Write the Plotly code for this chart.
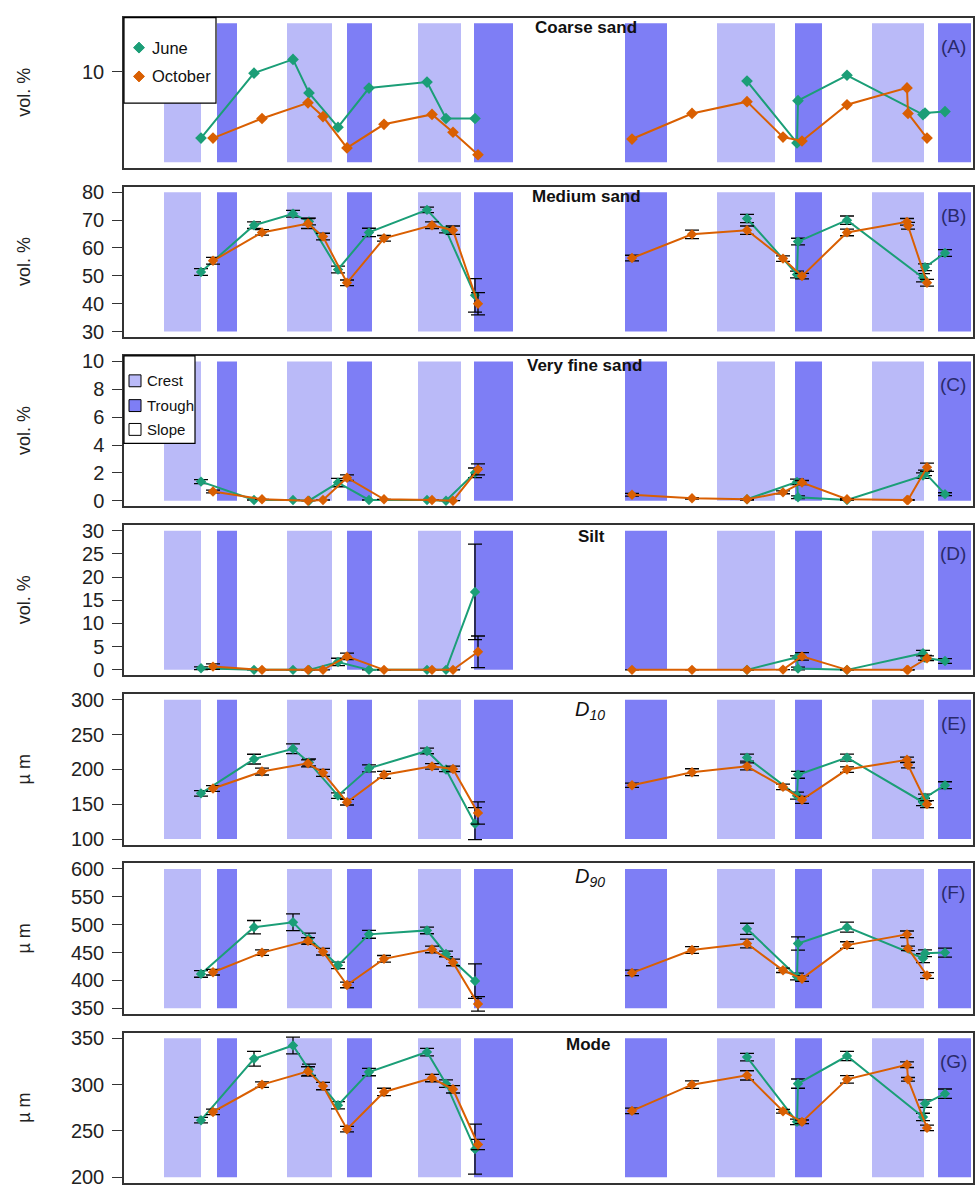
import plotly.graph_objects as go

# ---------------- data ----------------
# sample positions along the transect (arbitrary distance units); None = gap between sections
june_x = [77, 130, 169, 185, 214, 245, 303, 322, 351, None, 623, 673, 674, 723, 799, 801, 821]
oct_x = [89, 138, 184, 199, 223, 260, 308, 329, 354, None, 508, 568, 623, 659, 678, 723, 783, 784, 803]

# bedform zones
crest_start = [40, 163, 294, 593, 748]
crest_end = [77, 208, 337, 651, 800]
trough_start = [93, 223, 350, 501, 671, 814]
trough_end = [113, 248, 389, 543, 698, 847]

# (A) coarse sand, vol. %
june_coarse = [5.90, 9.91, 10.76, 8.69, 6.57, 8.99, 9.36, 7.11, 7.11, None, 9.42, 5.60, 8.21, 9.78, 7.35, 7.45, 7.54]
oct_coarse = [5.90, 7.11, 8.08, 7.23, 5.29, 6.75, 7.36, 6.26, 4.87, None, 5.84, 7.42, 8.15, 5.96, 5.72, 7.96, 9.00, 7.42, 5.90]

# (B) medium sand, vol. %
june_medium = [51.4, 68.2, 72.3, 69.5, 52.3, 65.6, 73.7, 66.4, 43.0, None, 70.6, 50.5, 62.3, 70.0, 49.3, 53.1, 58.2]
june_medium_err = [1.2, 1.2, 1.2, 1.2, 1.2, 1.5, 1.0, 1.0, 6.0, None, 1.5, 1.2, 1.2, 1.5, 1.5, 1.2, 1.2]
oct_medium = [55.4, 65.6, 68.8, 64.1, 47.5, 63.5, 68.2, 66.4, 40.0, None, 56.4, 64.9, 66.4, 56.2, 49.9, 65.6, 69.4, 68.0, 47.5]
oct_medium_err = [1.2, 1.0, 1.8, 1.2, 1.0, 1.0, 1.2, 1.5, 4.0, None, 1.0, 1.5, 1.5, 1.0, 1.0, 1.2, 1.2, 1.2, 1.2]

# (C) very fine sand, vol. %
june_vfine = [1.37, 0.05, 0.05, 0.0, 1.3, 0.05, 0.05, 0.0, 2.0, None, 0.1, 1.35, 0.25, 0.05, 1.8, 2.0, 0.47]
june_vfine_err = [0.15, 0, 0, 0, 0.3, 0, 0, 0, 0.35, None, 0, 0.2, 0.1, 0, 0.2, 0.2, 0.1]
oct_vfine = [0.66, 0.1, 0.0, 0.05, 1.65, 0.1, 0.05, 0.0, 2.25, None, 0.43, 0.17, 0.1, 0.6, 1.3, 0.1, 0.05, 0.05, 2.4]
oct_vfine_err = [0.1, 0, 0, 0, 0.2, 0, 0, 0, 0.4, None, 0.1, 0.05, 0.05, 0.1, 0.15, 0.05, 0, 0, 0.3]

# (D) silt, vol. %
june_silt = [0.35, 0, 0, 0, 1.7, 0, 0, 0, 16.8, None, 0, 2.7, 0.3, 0, 3.6, 2.6, 1.9]
june_silt_err = [0.3, 0, 0, 0, 0.8, 0, 0, 0, 10.3, None, 0, 0.3, 0.3, 0, 0.6, 0.5, 0.5]
oct_silt = [0.7, 0, 0, 0, 2.9, 0, 0, 0, 3.9, None, 0, 0, 0, 0.05, 2.9, 0, 0, 0, 2.5]
oct_silt_err = [0.6, 0, 0, 0, 0.7, 0, 0, 0, 3.4, None, 0, 0, 0, 0, 0.8, 0, 0, 0, 0.5]

# (E) D10, µm
june_d10 = [165.6, 214.8, 229.7, 210, 162.3, 201.6, 226.5, 199.8, 122, None, 217, 162.3, 192.3, 217, 152.9, 159.5, 177.3]
june_d10_err = [4, 7, 7, 5, 4, 5, 4, 3, 23, None, 5, 5, 5, 5, 5, 5, 5]
oct_d10 = [172.6, 197, 208.7, 195.1, 152.9, 192.3, 204.4, 200.7, 137.5, None, 177.3, 196, 204.4, 174.9, 156.2, 199.8, 213.8, 206.3, 150.1]
oct_d10_err = [4, 5, 5, 5, 4, 5, 4, 4, 16, None, 3, 5, 5, 4, 5, 4, 4, 4, 5]

# (F) D90, µm
june_d90 = [411.6, 495.5, 504.3, 475, 426.9, 482.6, 489.7, 447.4, 398.7, None, 492.6, 407, 466.2, 495.5, 439.8, 448.6, 449.8]
june_d90_err = [6, 12, 15, 10, 6, 7, 6, 5, 31, None, 10, 6, 12, 9, 8, 6, 8]
oct_d90 = [414.6, 449.8, 470.9, 451.5, 391.7, 438.6, 455.6, 432.2, 357.6, None, 413.4, 454.5, 466.2, 418.1, 403, 463.3, 482.6, 457.4, 408.7]
oct_d90_err = [5, 5, 6, 6, 5, 6, 6, 6, 13, None, 5, 6, 8, 4, 5, 6, 6, 4, 5]

# (G) mode, µm
june_mode = [261.6, 327.8, 342.1, 316, 277.7, 313.5, 335, 301, 230.4, None, 329.6, 259.8, 301, 330.7, 265.1, 279.5, 290.2]
june_mode_err = [3, 8, 9, 6, 4, 4, 4, 4, 27, None, 4, 3, 5, 5, 4, 4, 5]
oct_mode = [270.5, 299.9, 314.2, 298.4, 251.9, 292, 307, 294.9, 235.4, None, 271.6, 299.9, 309.9, 271.2, 259.8, 305.6, 321.4, 305.6, 253.3]
oct_mode_err = [3, 3, 5, 4, 3, 4, 4, 4, 5.5, None, 3, 4, 5, 2, 2, 4, 3, 2, 3]

panel_titles = ["<b>Coarse sand</b>", "<b>Medium sand</b>", "<b>Very fine sand</b>", "<b>Silt</b>",
                "<i>D</i><sub><i>10</i></sub>", "<i>D</i><sub><i>90</i></sub>", "<b>Mode</b>"]
panel_labels = ["(A)", "(B)", "(C)", "(D)", "(E)", "(F)", "(G)"]
panel_units = ["vol. %", "vol. %", "vol. %", "vol. %", "µ m", "µ m", "µ m"]
y_lo = [4.4, 30, 0, 0, 100, 350, 200]
y_hi = [13, 80, 10, 30, 300, 600, 350]
y_ticks = [[10], [30, 40, 50, 60, 70, 80], [0, 2, 4, 6, 8, 10], [0, 5, 10, 15, 20, 25, 30],
           [100, 150, 200, 250, 300], [350, 400, 450, 500, 550, 600], [200, 250, 300, 350]]

panels = [
    (june_coarse, None, oct_coarse, None),
    (june_medium, june_medium_err, oct_medium, oct_medium_err),
    (june_vfine, june_vfine_err, oct_vfine, oct_vfine_err),
    (june_silt, june_silt_err, oct_silt, oct_silt_err),
    (june_d10, june_d10_err, oct_d10, oct_d10_err),
    (june_d90, june_d90_err, oct_d90, oct_d90_err),
    (june_mode, june_mode_err, oct_mode, oct_mode_err),
]

# ---------------- style / layout ----------------
FIG_W, FIG_H = 975, 1190
PLOT_L, PLOT_R = 124, 973
PANEL_TOPS = [12.7, 183.3, 353.9, 524.5, 695.1, 865.7, 1036.3]
PANEL_H = 151.6
X_RANGE = [0, PLOT_R - PLOT_L]
JUNE_C = "#1b9e77"
OCT_C = "#d95f02"
CREST_C = "#babaf8"
TROUGH_C = "#7e7ef5"
FRAME_C = "#333333"
FONT = "Liberation Sans, Arial, sans-serif"


def pxx(px):
    return px / FIG_W


def pxy(py):
    return 1 - py / FIG_H


fig = go.Figure()
shapes = []
annotations = []

for i, (jv, je, ov, oe) in enumerate(panels):
    n = i + 1
    xa = "x" if n == 1 else f"x{n}"
    ya = "y" if n == 1 else f"y{n}"
    top = PANEL_TOPS[i]
    lo, hi = y_lo[i], y_hi[i]
    d = hi - lo
    fig.update_layout(**{
        ("xaxis" if n == 1 else f"xaxis{n}"): dict(
            domain=[pxx(PLOT_L), pxx(PLOT_R)], range=X_RANGE, anchor=ya,
            showticklabels=False, ticks="", showgrid=False, zeroline=False,
            showline=True, mirror=True, linecolor=FRAME_C, linewidth=1.5),
        ("yaxis" if n == 1 else f"yaxis{n}"): dict(
            domain=[pxy(top + PANEL_H), pxy(top)], range=[lo - 0.04 * d, hi + 0.04 * d],
            anchor=xa, tickvals=y_ticks[i], ticks="outside", ticklen=10, tickwidth=1,
            tickcolor=FRAME_C, ticklabelstandoff=4,
            tickfont=dict(family=FONT, size=20, color="#222222"),
            showgrid=False, zeroline=False, showline=True, mirror=True,
            linecolor=FRAME_C, linewidth=1.5),
    })
    for s, e in zip(crest_start, crest_end):
        shapes.append(dict(type="rect", xref=xa, yref=ya, x0=s, x1=e, y0=lo, y1=hi,
                           fillcolor=CREST_C, line=dict(width=0), layer="below"))
    for s, e in zip(trough_start, trough_end):
        shapes.append(dict(type="rect", xref=xa, yref=ya, x0=s, x1=e, y0=lo, y1=hi,
                           fillcolor=TROUGH_C, line=dict(width=0), layer="below"))

    msize = 9 if n == 1 else 8
    for xs, vals, err, col, name in [(june_x, jv, je, JUNE_C, "June"), (oct_x, ov, oe, OCT_C, "October")]:
        ey = dict(visible=False) if err is None else dict(
            type="data", array=err, color="black", thickness=1.3, width=7)
        fig.add_trace(go.Scatter(
            x=xs, y=vals, xaxis=xa, yaxis=ya, mode="lines+markers", name=name,
            line=dict(color=col, width=2), marker=dict(symbol="diamond", size=msize, color=col),
            error_y=ey, showlegend=False, connectgaps=False, cliponaxis=False))

    # panel title, label and unit
    title_dy = [10, 10, 10, 11, 16, 14, 12][i]
    title_x = [586, 586, 584, 591, 590, 590, 588][i]
    annotations.append(dict(xref="paper", yref="paper", x=pxx(title_x), y=pxy(top + title_dy),
                            text=panel_titles[i], showarrow=False, xanchor="center", yanchor="middle",
                            font=dict(family=FONT, size=17 if i not in (4, 5) else 20, color="#111111")))
    annotations.append(dict(xref="paper", yref="paper", x=pxx(953), y=pxy(top + 29),
                            text=panel_labels[i], showarrow=False, xanchor="center", yanchor="middle",
                            font=dict(family=FONT, size=19, color="#2a2a6a")))
    annotations.append(dict(xref="paper", yref="paper", x=pxx(24), y=pxy(top + PANEL_H / 2),
                            text=panel_units[i], showarrow=False, textangle=-90,
                            xanchor="center", yanchor="middle",
                            font=dict(family=FONT, size=18, color="#222222")))

# legend in panel A: June / October
top = PANEL_TOPS[0]
shapes.append(dict(type="rect", xref="paper", yref="paper", x0=pxx(PLOT_L), x1=pxx(216),
                   y0=pxy(99), y1=pxy(top), fillcolor="white", line=dict(color="black", width=1.2),
                   layer="above"))
for cy, col, lab in [(43, JUNE_C, "June"), (72, OCT_C, "October")]:
    cx, r = 139, 5.5
    path = (f"M {pxx(cx - r)} {pxy(cy)} L {pxx(cx)} {pxy(cy - r)} "
            f"L {pxx(cx + r)} {pxy(cy)} L {pxx(cx)} {pxy(cy + r)} Z")
    shapes.append(dict(type="path", xref="paper", yref="paper", path=path, fillcolor=col,
                       line=dict(color=col, width=1), layer="above"))
    annotations.append(dict(xref="paper", yref="paper", x=pxx(150), y=pxy(cy), text=lab,
                            showarrow=False, xanchor="left", yanchor="middle",
                            font=dict(family=FONT, size=16.5, color="#111111")))

# legend in panel C: Crest / Trough / Slope
top = PANEL_TOPS[2]
shapes.append(dict(type="rect", xref="paper", yref="paper", x0=pxx(PLOT_L), x1=pxx(195),
                   y0=pxy(442), y1=pxy(top), fillcolor="white", line=dict(color="black", width=1.2),
                   layer="above"))
for cy, col, lab in [(379, CREST_C, "Crest"), (404, TROUGH_C, "Trough"), (428, "white", "Slope")]:
    shapes.append(dict(type="rect", xref="paper", yref="paper", x0=pxx(129), x1=pxx(141),
                       y0=pxy(cy + 6), y1=pxy(cy - 6), fillcolor=col,
                       line=dict(color="black", width=1), layer="above"))
    annotations.append(dict(xref="paper", yref="paper", x=pxx(145), y=pxy(cy), text=lab,
                            showarrow=False, xanchor="left", yanchor="middle",
                            font=dict(family=FONT, size=15, color="#111111")))

fig.update_layout(
    width=FIG_W, height=FIG_H, margin=dict(l=0, r=0, t=0, b=0),
    paper_bgcolor="white", plot_bgcolor="white", showlegend=False,
    shapes=shapes, annotations=annotations, font=dict(family=FONT),
)

fig.write_html("out.html")
